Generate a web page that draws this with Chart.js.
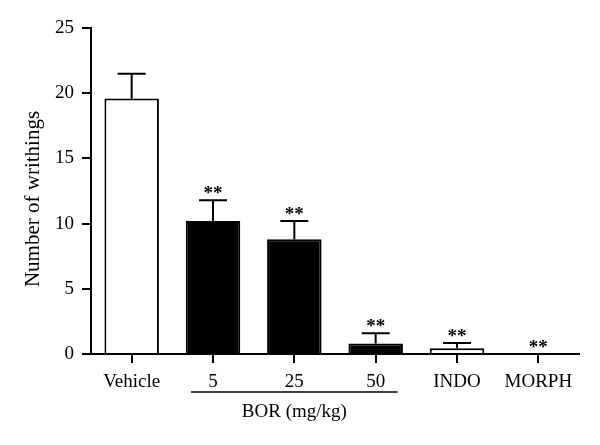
<!DOCTYPE html>
<html>
<head>
<meta charset="utf-8">
<script src="https://cdn.jsdelivr.net/npm/chart.js@4/dist/chart.umd.min.js"></script>
<style>
  html, body { margin: 0; padding: 0; background: #fff; }
  #wrap { width: 600px; height: 445px; }
</style>
</head>
<body>
<div id="wrap"><canvas id="grafico" width="600" height="445"></canvas></div>
<script>
// datos
const categorias = ['Vehicle', '5', '25', '50', 'INDO', 'MORPH'];
const medias = [19.6, 10.2, 8.8, 0.8, 0.45, 0];
const errores = [1.9, 1.6, 1.4, 0.8, 0.4, 0];
const marcas = ['', '**', '**', '**', '**', '**'];
const rellenos = ['#ffffff', '#000000', '#000000', '#000000', '#ffffff', '#ffffff'];
const ticksY = [0, 5, 10, 15, 20, 25];

const FUENTE = '"Liberation Serif", "DejaVu Serif", serif';

// Plugin para barras de error, asteriscos y etiquetas extra
const extras = {
    id: 'extras',
    afterDatasetsDraw(chart) {
        const ctx = chart.ctx;
        const x = chart.scales.x;
        const y = chart.scales.y;
        ctx.save();
        ctx.strokeStyle = '#000';
        ctx.fillStyle = '#000';
        ctx.lineWidth = 2;
        for (let i = 0; i < medias.length; i++) {
            const cx = x.getPixelForValue(i);
            const y0 = y.getPixelForValue(medias[i]);
            const y1 = y.getPixelForValue(medias[i] + errores[i]);
            if (errores[i] > 0) {
                ctx.beginPath();
                ctx.moveTo(cx, y0);
                ctx.lineTo(cx, y1);
                ctx.moveTo(cx - 14, y1);
                ctx.lineTo(cx + 14, y1);
                ctx.stroke();
            }
            if (marcas[i]) {
                ctx.font = 'bold 19px ' + FUENTE;
                ctx.textAlign = 'center';
                ctx.textBaseline = 'middle';
                ctx.fillText(marcas[i], cx, y1 - 6);
            }
        }
        // línea y texto BOR
        const xa = x.getPixelForValue(1) - 22;
        const xb = x.getPixelForValue(3) + 22;
        ctx.lineWidth = 1.5;
        ctx.beginPath();
        ctx.moveTo(xa, 392);
        ctx.lineTo(xb, 392);
        ctx.stroke();
        ctx.font = '19px ' + FUENTE;
        ctx.textAlign = 'center';
        ctx.textBaseline = 'middle';
        ctx.fillText('BOR (mg/kg)', (xa + xb) / 2, 412);
        // título eje Y
        ctx.font = '21px ' + FUENTE;
        ctx.translate(33, 199);
        ctx.rotate(-Math.PI / 2);
        ctx.fillText('Number of writhings', 0, 0);
        ctx.restore();
    }
};

function crearGrafico(id) {
    const ctx = document.getElementById(id);
    new Chart(ctx, {
        type: 'bar',
        data: {
            labels: categorias,
            datasets: [{
                data: medias,
                backgroundColor: rellenos,
                borderColor: '#000',
                borderWidth: 2,
                borderSkipped: 'bottom',
                categoryPercentage: 1,
                barPercentage: 0.67
            }]
        },
        options: {
            responsive: false,
            animation: false,
            devicePixelRatio: 1,
            layout: { padding: { left: 0, right: 21, top: 28, bottom: 0 } },
            plugins: { legend: { display: false }, tooltip: { enabled: false } },
            scales: {
                x: {
                    offset: true,
                    grid: { offset: false, drawOnChartArea: false, drawTicks: true, tickLength: 9, color: '#000', lineWidth: 2 },
                    border: { display: true, color: '#000', width: 2 },
                    ticks: { color: '#000', font: { family: FUENTE, size: 19 }, padding: 8, maxRotation: 0 },
                    afterFit(scale) { scale.height = 91; }
                },
                y: {
                    min: 0,
                    max: 25,
                    afterBuildTicks(scale) { scale.ticks = ticksY.map(v => ({ value: v })); },
                    grid: { drawOnChartArea: false, drawTicks: true, tickLength: 9, color: '#000', lineWidth: 2 },
                    border: { display: true, color: '#000', width: 2 },
                    ticks: { color: '#000', font: { family: FUENTE, size: 19 }, padding: 8 },
                    afterFit(scale) { scale.width = 91; }
                }
            }
        },
        plugins: [extras]
    });
}

crearGrafico('grafico');
</script>
</body>
</html>
